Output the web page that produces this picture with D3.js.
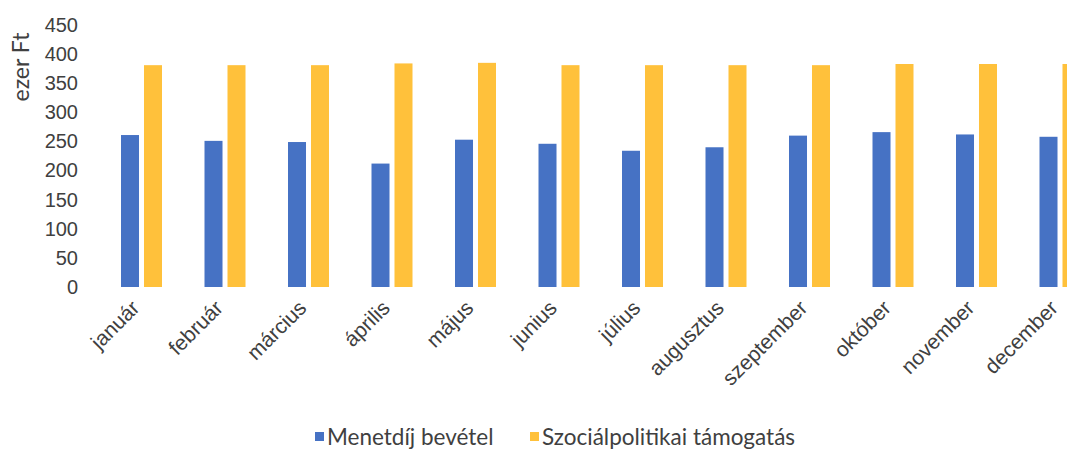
<!DOCTYPE html>
<html>
<head>
<meta charset="utf-8">
<script src="https://cdn.jsdelivr.net/npm/d3@7"></script>
<style>
  body { margin: 0; background: #fff; }
  svg { display: block; font-family: Lato, "Open Sans", sans-serif; }
</style>
</head>
<body>
<svg id="chart" width="1067" height="450"></svg>
<script>
// Chart data.
var months = ['január', 'február', 'március', 'április', 'május', 'junius',
  'július', 'augusztus', 'szeptember', 'október', 'november', 'december'];
var seriesNames = ['Menetdíj bevétel', 'Szociálpolitikai támogatás'];
var fareRevenue = [261, 251, 249, 212, 253, 246, 234, 240, 260, 266, 262, 258];
var socialSupport = [381, 381, 381, 384, 385, 381, 381, 381, 381, 383, 383, 383];
var yTicks = [0, 50, 100, 150, 200, 250, 300, 350, 400, 450];
var colors = ['#4672c4', '#ffc13b'];
var textColor = '#404040';
var fontFamily = 'Lato, "Open Sans", sans-serif';

var svg = d3.select('#chart');

var x = d3.scaleBand().domain(months).range([99.75, 1101.75]).padding(0);
var x1 = d3.scaleBand().domain(seriesNames).range([-20.5, 20.5])
    .paddingInner(0.217);
var y = d3.scaleLinear().domain([0, 450]).range([287, 25]);

// Y axis, no line, labels only.
var yAxis = svg.append('g')
    .attr('transform', 'translate(78,0)')
    .attr('font-family', fontFamily)
    .call(d3.axisLeft(y).tickValues(yTicks).tickSize(0).tickPadding(0));
yAxis.select('.domain').remove();
yAxis.selectAll('text')
    .attr('fill', textColor)
    .style('font-size', '20px');

svg.append('text')
    .attr('transform', 'translate(29,67) rotate(-90)')
    .attr('text-anchor', 'middle')
    .attr('fill', textColor)
    .style('font-size', '23px')
    .text('ezer Ft');

// Bars.
var rows = months.map(function(m, i) {
  return {month: m, values: [fareRevenue[i], socialSupport[i]]};
});
var groups = svg.append('g').selectAll('g')
    .data(rows)
    .join('g')
    .attr('transform', function(d) {
      return 'translate(' + (x(d.month) + x.bandwidth() / 2) + ',0)';
    });
groups.selectAll('rect')
    .data(function(d) {
      return d.values.map(function(v, j) {
        return {name: seriesNames[j], value: v, idx: j};
      });
    })
    .join('rect')
    .attr('x', function(d) { return x1(d.name); })
    .attr('width', x1.bandwidth())
    .attr('y', function(d) { return y(d.value); })
    .attr('height', function(d) { return y(0) - y(d.value); })
    .attr('fill', function(d) { return colors[d.idx]; });

// X axis labels rotated 45 degrees.
var xAxis = svg.append('g')
    .attr('transform', 'translate(0,300)')
    .attr('font-family', fontFamily)
    .call(d3.axisBottom(x).tickSize(0).tickPadding(0));
xAxis.select('.domain').remove();
xAxis.selectAll('text')
    .attr('fill', textColor)
    .style('font-size', '21px')
    .attr('text-anchor', 'end')
    .attr('dy', '0.35em')
    .attr('transform', 'translate(-6,4) rotate(-45)');

// Legend.
var legend = svg.append('g').attr('transform', 'translate(0,437)');
var legendX = [315, 530];
seriesNames.forEach(function(name, i) {
  legend.append('rect')
      .attr('x', legendX[i])
      .attr('y', -5)
      .attr('width', 9)
      .attr('height', 9)
      .attr('fill', colors[i]);
  legend.append('text')
      .attr('x', legendX[i] + 12)
      .attr('dy', '0.35em')
      .attr('fill', textColor)
      .style('font-size', '22.5px')
      .text(name);
});
</script>
</body>
</html>
